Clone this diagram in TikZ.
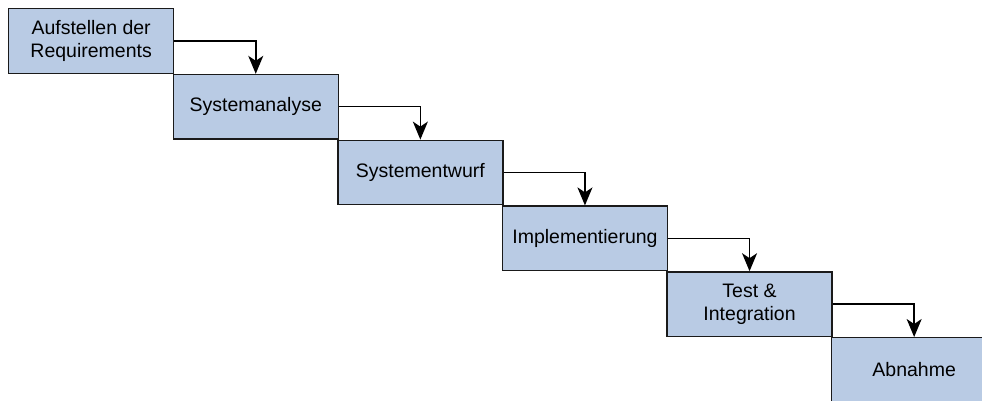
\documentclass[tikz,border=0pt]{standalone}
\usepackage{fontspec}
\setmainfont{Liberation Sans}
\usetikzlibrary{arrows.meta}
\definecolor{stagefill}{HTML}{B9CBE4}
\definecolor{stageline}{HTML}{1A1A1A}
\tikzset{
  stagebox/.style={draw=stageline, fill=stagefill, line width=1.3pt,
    minimum width=165pt, minimum height=64.5pt, inner sep=0pt,
    anchor=north west, align=center,
    font=\fontsize{19.5}{23.5}\selectfont},
  flow/.style={draw=black, line width=1.5pt,
    -{Stealth[length=18pt,width=15pt,inset=5pt]}}
}
\begin{document}
\begin{tikzpicture}[x=1pt,y=1pt]
  \useasboundingbox (0,0) rectangle (982,-400);
  \clip (0,0) rectangle (982,-400);
  % waterfall stages, each shifted right and down
  \node[stagebox] (s1) at (8,-8)       {Aufstellen der\\Requirements};
  \node[stagebox] (s2) at (172.6,-73.8)  {Systemanalyse};
  \node[stagebox] (s3) at (337.2,-139.6) {Systementwurf};
  \node[stagebox] (s4) at (501.8,-205.4) {Implementierung};
  \node[stagebox] (s5) at (666.4,-271.2) {Test \&\\Integration};
  \node[stagebox] (s6) at (831,-337)     {Abnahme};
  % hand-over from each stage to the next
  \draw[flow] (s1.east) -| (s2.north);
  \draw[flow] (s2.east) -| (s3.north);
  \draw[flow] (s3.east) -| (s4.north);
  \draw[flow] (s4.east) -| (s5.north);
  \draw[flow] (s5.east) -| (s6.north);
\end{tikzpicture}
\end{document}
